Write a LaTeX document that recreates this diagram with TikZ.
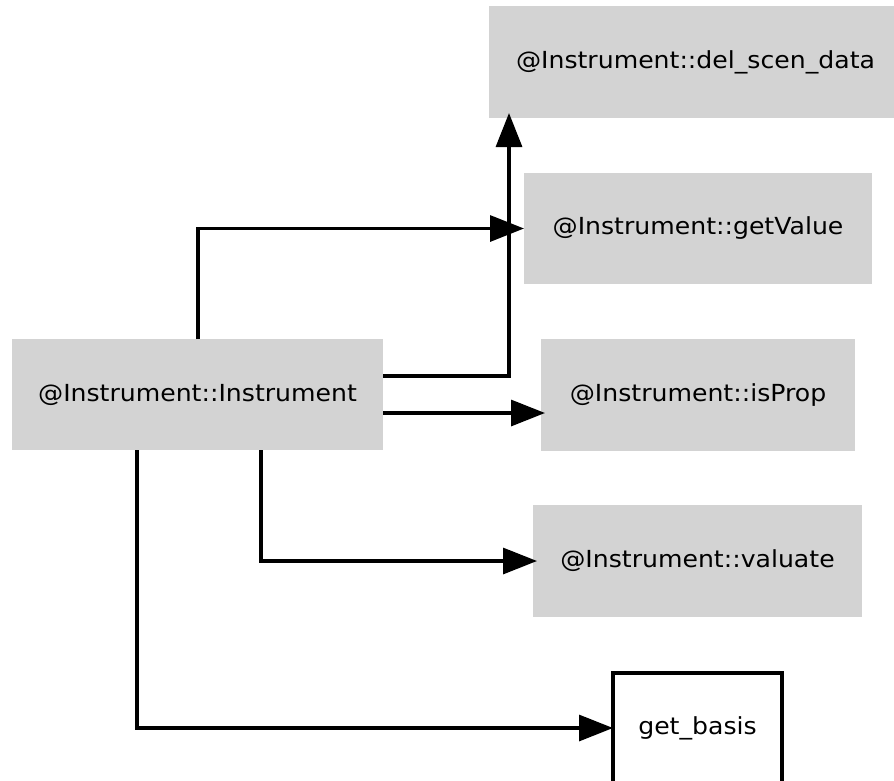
\documentclass[tikz,border=0pt]{standalone}
\usepackage{fontspec}
\setmainfont{DejaVu Sans}[FakeStretch=1.07]
\usetikzlibrary{arrows.meta}
\definecolor{boxgray}{HTML}{D3D3D3}
\tikzset{
  fn/.style={fill=boxgray, draw=none, inner sep=0pt, outer sep=0pt, anchor=north west,
    font=\fontsize{23.5}{28}\selectfont},
  ext/.style={fill=white, draw=black, line width=3.2pt, inner sep=0pt, outer sep=0pt, anchor=north west,
    font=\fontsize{23.5}{28}\selectfont},
  conn/.style={line width=3.2pt, draw=black, -{Triangle[length=34pt,width=26pt]}, line join=miter},
}
\begin{document}
\begin{tikzpicture}[x=1pt,y=-1pt]
\useasboundingbox (0,0) rectangle (894,780);
\clip (0,0) rectangle (894,780);
\fill[white] (0,0) rectangle (894,780);
\node[fn, minimum width=413pt, minimum height=112pt] (del) at (489,6) {@Instrument::del\_scen\_data};
\node[fn, minimum width=348pt, minimum height=111pt] (getv) at (524,173) {@Instrument::getValue};
\node[fn, minimum width=371pt, minimum height=111pt] (inst) at (12,339) {@Instrument::Instrument};
\node[fn, minimum width=314pt, minimum height=112pt] (isp) at (541,339) {@Instrument::isProp};
\node[fn, minimum width=329pt, minimum height=112pt] (val) at (533,505) {@Instrument::valuate};
\node[ext, minimum width=169pt, minimum height=110pt] (gb) at (613,673) {get\_basis};
\draw[conn] (inst.north -| 198,0) |- (getv.west);
\draw[conn, shorten >=-5pt] (inst.east |- 0,376) -| (del.south -| 509,0);
\draw[conn, shorten >=-4pt] (inst.east |- 0,413) -- (isp.west |- 0,413);
\draw[conn, shorten >=-4pt] (inst.south -| 261,0) |- (val.west);
\draw[conn] (inst.south -| 137,0) |- (gb.west);
\end{tikzpicture}
\end{document}
